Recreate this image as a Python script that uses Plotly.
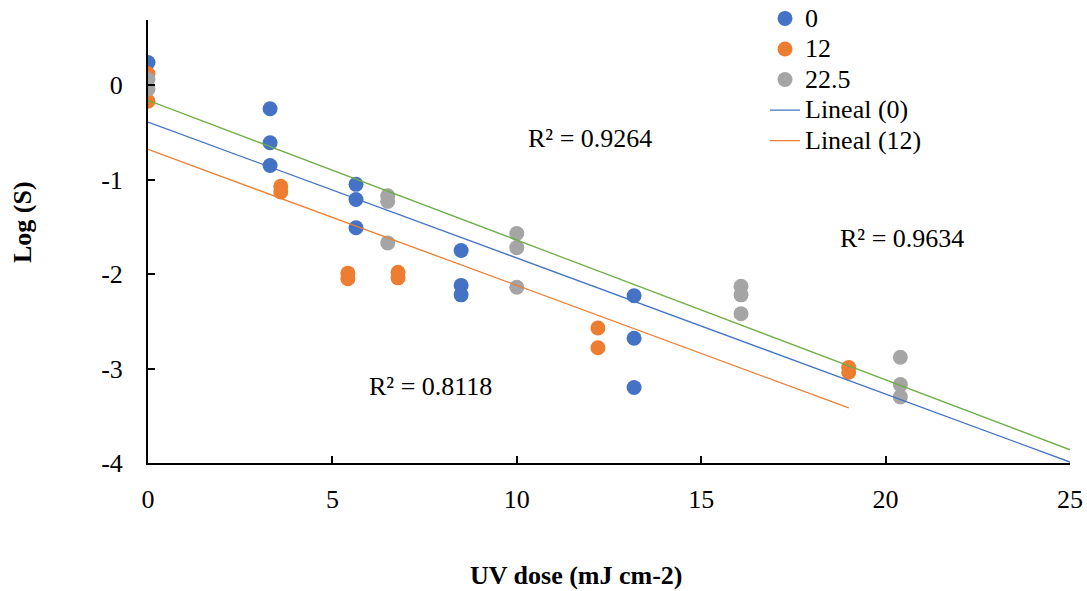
import plotly.graph_objects as go

# ---- data ----
x_0 = [0, 3.31, 3.31, 3.31, 5.64, 5.64, 5.64, 8.49, 8.49, 8.49, 13.18, 13.18, 13.18]
y_0 = [0.24, -0.25, -0.61, -0.85, -1.05, -1.21, -1.51, -1.75, -2.12, -2.22, -2.23, -2.68, -3.20]

x_12 = [0, 0, 3.6, 3.6, 5.42, 5.42, 6.78, 6.78, 12.2, 12.2, 19.0, 19.0]
y_12 = [0.12, -0.17, -1.07, -1.13, -1.99, -2.05, -1.98, -2.04, -2.57, -2.78, -2.99, -3.04]

x_225 = [0, 0, 6.5, 6.5, 6.5, 10.0, 10.0, 10.0, 16.08, 16.08, 16.08, 20.4, 20.4, 20.4]
y_225 = [0.06, -0.04, -1.17, -1.23, -1.67, -1.57, -1.72, -2.14, -2.13, -2.22, -2.42, -2.88, -3.17, -3.30]

# linear trend lines (intercept, slope, x-extent)
trend_names = ["Lineal (0)", "Lineal (12)", "Lineal (22.5)"]
trend_intercepts = [-0.39, -0.68, -0.16]
trend_slopes = [-0.144, -0.144, -0.148]
trend_xmax = [25, 19, 25]
trend_show = [True, True, False]

r2_labels = ["R² = 0.9264", "R² = 0.8118", "R² = 0.9634"]
r2_x = [11.99, 7.65, 20.45]
r2_y = [-0.56, -3.19, -1.62]

x_ticks = [0, 5, 10, 15, 20, 25]
x_ticktext = ["0", "5", "10", "15", "20", "25"]
y_ticks = [0, -1, -2, -3, -4]
y_ticktext = ["0", "-1", "-2", "-3", "-4"]

BLUE = "#4472C4"
ORANGE = "#ED7D31"
GRAY = "#A5A5A5"
GREEN = "#70AD47"
FONT = "Liberation Serif"
FS = 26


def leg(name):
    return '<span style="font-size:%dpx">%s</span>' % (FS, name)


fig = go.Figure()
for name, xs, ys, col in [("0", x_0, y_0, BLUE), ("12", x_12, y_12, ORANGE), ("22.5", x_225, y_225, GRAY)]:
    fig.add_trace(go.Scatter(x=xs, y=ys, mode="markers", name=leg(name),
                             marker=dict(color=col, size=15, line=dict(width=0))))

for nm, b, m, xm, show, col in zip(trend_names, trend_intercepts, trend_slopes, trend_xmax, trend_show, [BLUE, ORANGE, GREEN]):
    fig.add_trace(go.Scatter(x=[0, xm], y=[b, b + m * xm], mode="lines", name=leg(nm),
                             line=dict(color=col, width=1.3), showlegend=show))

for t, xx, yy in zip(r2_labels, r2_x, r2_y):
    fig.add_annotation(x=xx, y=yy, text=t, showarrow=False,
                       font=dict(family=FONT, size=FS, color="black"))

fig.add_annotation(xref="paper", yref="paper", x=(22 - 148) / 922, y=(463 - 222) / 463,
                   xanchor="center", yanchor="middle", text="<b>Log (S)</b>",
                   textangle=-90, showarrow=False, font=dict(family=FONT, size=FS, color="black"))
fig.add_annotation(xref="paper", yref="paper", x=(576 - 148) / 922, y=(463 - 575) / 463,
                   xanchor="center", yanchor="middle", text="<b>UV dose (mJ cm-2)</b>",
                   showarrow=False, font=dict(family=FONT, size=FS, color="black"))

fig.update_layout(
    width=1087, height=591,
    margin=dict(l=148, r=17, t=0, b=128, autoexpand=False),
    paper_bgcolor="white", plot_bgcolor="white",
    font=dict(family=FONT, size=FS, color="black"),
    showlegend=True,
    legend=dict(x=(765 - 148) / 922, y=1.004, xanchor="left", yanchor="top", bgcolor="rgba(0,0,0,0)",
                font=dict(family=FONT, size=21.2, color="black"), traceorder="normal"),
    xaxis=dict(range=[0, 25], tickvals=x_ticks, ticktext=x_ticktext, showgrid=False, zeroline=False,
               showline=True, linecolor="black", linewidth=2, ticks="inside", ticklen=7,
               tickcolor="black", tickwidth=1.5, ticklabelstandoff=12, automargin=False),
    yaxis=dict(range=[-4, 0.69], domain=[0, 443 / 463], tickvals=y_ticks, ticktext=y_ticktext,
               showgrid=False, zeroline=False,
               showline=True, linecolor="black", linewidth=2, ticks="inside", ticklen=7,
               tickcolor="black", tickwidth=1.5, ticklabelstandoff=18, automargin=False),
)

fig.write_html("out.html")
